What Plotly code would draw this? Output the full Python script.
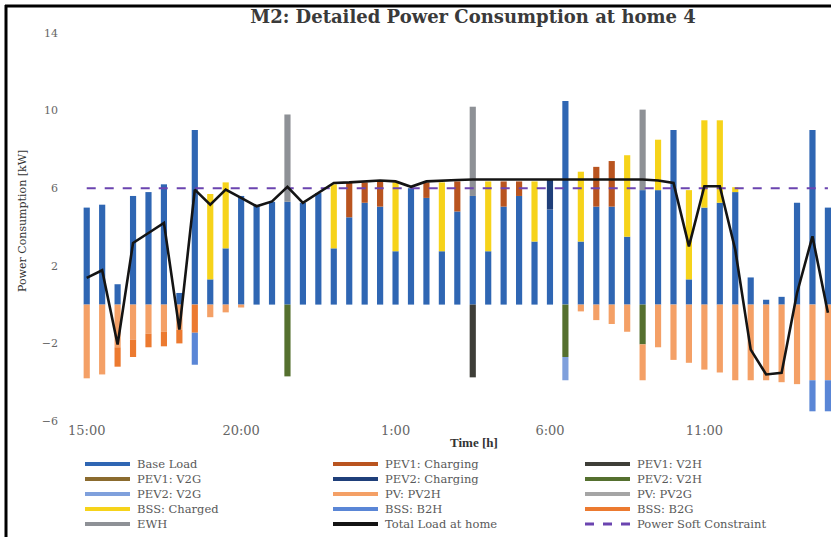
import plotly.graph_objects as go

# ---------------- data ----------------
times = ["15:00", "15:30", "16:00", "16:30", "17:00", "17:30", "18:00", "18:30", "19:00", "19:30",
         "20:00", "20:30", "21:00", "21:30", "22:00", "22:30", "23:00", "23:30", "0:00", "0:30",
         "1:00", "1:30", "2:00", "2:30", "3:00", "3:30", "4:00", "4:30", "5:00", "5:30",
         "6:00", "6:30", "7:00", "7:30", "8:00", "8:30", "9:00", "9:30", "10:00", "10:30",
         "11:00", "11:30", "12:00", "12:30", "13:00", "13:30", "14:00", "14:30", "15:00"]
tick_labels = ["15:00", "20:00", "1:00", "6:00", "11:00"]
y_ticks = [-6, -2, 2, 6, 10, 14]

base_load = [5.0, 5.15, 1.05, 5.6, 5.8, 6.2, 0.6, 9.0, 1.3, 2.9,
             5.6, 5.1, 5.3, 5.3, 5.25, 5.75, 2.9, 4.5, 5.25, 5.05,
             2.75, 6.0, 5.5, 2.75, 4.8, 5.6, 2.75, 5.05, 5.6, 3.25,
             4.9, 10.5, 3.25, 5.05, 5.05, 3.5, 5.9, 5.9, 9.0, 1.3,
             5.0, 5.25, 5.8, 1.4, 0.25, 0.4, 5.25, 9.0, 5.0]
pev1_charging = [0, 0, 0, 0, 0, 0, 0, 0, 0, 0,
                 0, 0, 0, 0, 0, 0, 0, 1.8, 1.05, 1.3,
                 0, 0, 0.8, 0, 1.55, 0, 0, 1.3, 0.75, 0,
                 0, 0, 0, 2.05, 2.35, 0, 0, 0, 0, 0,
                 0, 0, 0, 0, 0, 0, 0, 0, 0]
pev1_v2h = [0, 0, 0, 0, 0, 0, 0, 0, 0, 0,
            0, 0, 0, 0, 0, 0, 0, 0, 0, 0,
            0, 0, 0, 0, 0, -3.75, 0, 0, 0, 0,
            0, 0, 0, 0, 0, 0, 0, 0, 0, 0,
            0, 0, 0, 0, 0, 0, 0, 0, 0]
pev1_v2g = [0, 0, 0, 0, 0, 0, 0, 0, 0, 0,
            0, 0, 0, 0, 0, 0, 0, 0, 0, 0,
            0, 0, 0, 0, 0, 0, 0, 0, 0, 0,
            0, 0, 0, 0, 0, 0, 0, 0, 0, 0,
            0, 0, 0, 0, 0, 0, 0, 0, 0]
pev2_charging = [0, 0, 0, 0, 0, 0, 0, 0, 0, 0,
                 0, 0, 0, 0, 0, 0, 0, 0, 0, 0,
                 0, 0, 0, 0, 0, 0, 0, 0, 0, 0,
                 1.55, 0, 0, 0, 0, 0, 0, 0, 0, 0,
                 0, 0, 0, 0, 0, 0, 0, 0, 0]
pev2_v2h = [0, 0, 0, 0, 0, 0, 0, 0, 0, 0,
            0, 0, 0, -3.7, 0, 0, 0, 0, 0, 0,
            0, 0, 0, 0, 0, 0, 0, 0, 0, 0,
            0, -2.7, 0, 0, 0, 0, -2.05, 0, 0, 0,
            0, 0, 0, 0, 0, 0, 0, 0, 0]
pev2_v2g = [0, 0, 0, 0, 0, 0, 0, 0, 0, 0,
            0, 0, 0, 0, 0, 0, 0, 0, 0, 0,
            0, 0, 0, 0, 0, 0, 0, 0, 0, 0,
            0, -1.2, 0, 0, 0, 0, 0, 0, 0, 0,
            0, 0, 0, 0, 0, 0, 0, 0, 0]
pv_pv2h = [-3.8, -3.6, -2.2, -1.8, -1.5, -1.4, -1.3, 0, -0.65, -0.4,
           -0.15, 0, 0, 0, 0, 0, 0, 0, 0, 0,
           0, 0, 0, 0, 0, 0, 0, 0, 0, 0,
           0, 0, -0.35, -0.8, -1.0, -1.4, -1.85, -2.2, -2.85, -3.0,
           -3.35, -3.5, -3.9, -3.9, -3.9, -4.0, -4.1, -3.9, -3.9]
pv_pv2g = [0, 0, 0, 0, 0, 0, 0, 0, 0, 0,
           0, 0, 0, 0, 0, 0, 0, 0, 0, 0,
           0, 0, 0, 0, 0, 0, 0, 0, 0, 0,
           0, 0, 0, 0, 0, 0, 0, 0, 0, 0,
           0, 0, 0, 0, 0, 0, 0, 0, 0]
bss_charged = [0, 0, 0, 0, 0, 0, 0, 0, 4.4, 3.4,
               0, 0, 0, 0, 0, 0, 3.3, 0, 0, 0,
               3.55, 0, 0, 3.55, 0, 0, 3.6, 0, 0, 3.1,
               0, 0, 3.6, 0, 0, 4.2, 0, 2.6, 0, 4.6,
               4.5, 4.25, 0.25, 0, 0, 0, 0, 0, 0]
bss_b2h = [0, 0, 0, 0, 0, 0, 0, -1.65, 0, 0,
           0, 0, 0, 0, 0, 0, 0, 0, 0, 0,
           0, 0, 0, 0, 0, 0, 0, 0, 0, 0,
           0, 0, 0, 0, 0, 0, 0, 0, 0, 0,
           0, 0, 0, 0, 0, 0, 0, -1.6, -1.6]
bss_b2g = [0, 0, -1.0, -0.9, -0.7, -0.75, -0.7, -1.45, 0, 0,
           0, 0, 0, 0, 0, 0, 0, 0, 0, 0,
           0, 0, 0, 0, 0, 0, 0, 0, 0, 0,
           0, 0, 0, 0, 0, 0, 0, 0, 0, 0,
           0, 0, 0, 0, 0, 0, 0, 0, 0]
ewh = [0, 0, 0, 0, 0, 0, 0, 0, 0, 0,
       0, 0, 0, 4.5, 0, 0, 0, 0, 0, 0,
       0, 0, 0, 0, 0, 4.6, 0, 0, 0, 0,
       0, 0, 0, 0, 0, 0, 4.15, 0, 0, 0,
       0, 0, 0, 0, 0, 0, 0, 0, 0]
total_load = [1.38, 1.77, -2.06, 3.18, 3.69, 4.21, -1.29, 5.93, 5.15, 5.93,
              5.5, 5.07, 5.32, 6.07, 5.24, 5.75, 6.27, 6.3, 6.35, 6.4,
              6.35, 6.07, 6.35, 6.4, 6.42, 6.45, 6.45, 6.45, 6.45, 6.45,
              6.45, 6.45, 6.45, 6.45, 6.45, 6.45, 6.45, 6.4, 6.27, 3.0,
              6.1, 6.1, 2.83, -2.32, -3.6, -3.52, 0.6, 3.52, -0.42]
soft_constraint = [6.0, 6.0, 6.0, 6.0, 6.0, 6.0, 6.0, 6.0, 6.0, 6.0,
                   6.0, 6.0, 6.0, 6.0, 6.0, 6.0, 6.0, 6.0, 6.0, 6.0,
                   6.0, 6.0, 6.0, 6.0, 6.0, 6.0, 6.0, 6.0, 6.0, 6.0,
                   6.0, 6.0, 6.0, 6.0, 6.0, 6.0, 6.0, 6.0, 6.0, 6.0,
                   6.0, 6.0, 6.0, 6.0, 6.0, 6.0, 6.0, 6.0, 6.0]

# ---------------- styling ----------------
COL = {
    "Base Load": "#2F66B3",
    "PEV1: Charging": "#B9541F",
    "PEV1: V2H": "#3E3E38",
    "PEV1: V2G": "#8B6B2E",
    "PEV2: Charging": "#1F3F7A",
    "PEV2: V2H": "#55702F",
    "PEV2: V2G": "#7FA0DC",
    "PV: PV2H": "#F4A066",
    "PV: PV2G": "#A5A5A5",
    "BSS: Charged": "#F6D31A",
    "BSS: B2H": "#5A86D6",
    "BSS: B2G": "#EC7A30",
    "EWH": "#8E9196",
    "Total Load at home": "#141414",
    "Power Soft Constraint": "#6B44B0",
}

W, H = 831, 537
L, R, T, B = 79, 0, 33, 116
PW, PH = W - L - R, H - T - B


def px(x):
    return (x - L) / PW


def py(y):
    return (H - B - y) / PH


x_idx = list(range(len(times)))
tick_idx = [times.index(t) for t in tick_labels]

fig = go.Figure()

# positive stacks first (bottom to top), then negative ones (top to bottom)
bar_series = [
    ("Base Load", base_load),
    ("BSS: Charged", bss_charged),
    ("PEV1: Charging", pev1_charging),
    ("PEV2: Charging", pev2_charging),
    ("EWH", ewh),
    ("PV: PV2G", pv_pv2g),
    ("PEV2: V2H", pev2_v2h),
    ("PEV1: V2H", pev1_v2h),
    ("PEV1: V2G", pev1_v2g),
    ("PV: PV2H", pv_pv2h),
    ("BSS: B2G", bss_b2g),
    ("BSS: B2H", bss_b2h),
    ("PEV2: V2G", pev2_v2g),
]
for name, vals in bar_series:
    fig.add_trace(go.Bar(x=x_idx, y=vals, name=name, marker_color=COL[name],
                         marker_line_width=0, showlegend=False,
                         hovertext=times))

fig.add_trace(go.Scatter(x=x_idx, y=soft_constraint, name="Power Soft Constraint",
                         mode="lines", line=dict(color=COL["Power Soft Constraint"], width=2, dash="dash"),
                         showlegend=False))
fig.add_trace(go.Scatter(x=x_idx, y=total_load, name="Total Load at home",
                         mode="lines", line=dict(color=COL["Total Load at home"], width=2.6),
                         showlegend=False))

# ---------------- custom legend (3 columns x 5 rows) ----------------
legend_order = ["Base Load", "PEV1: Charging", "PEV1: V2H",
                "PEV1: V2G", "PEV2: Charging", "PEV2: V2H",
                "PEV2: V2G", "PV: PV2H", "PV: PV2G",
                "BSS: Charged", "BSS: B2H", "BSS: B2G",
                "EWH", "Total Load at home", "Power Soft Constraint"]
col_x = [85, 333, 585]
row_y = [464, 479, 494, 509, 524]
shapes = []
annotations = []
for i, name in enumerate(legend_order):
    r, c = divmod(i, 3)
    x0 = col_x[c]
    y0 = row_y[r]
    dash = "dash" if name == "Power Soft Constraint" else "solid"
    shapes.append(dict(type="line", xref="paper", yref="paper",
                       x0=px(x0), x1=px(x0 + 45), y0=py(y0), y1=py(y0),
                       line=dict(color=COL[name], width=4 if dash == "solid" else 3, dash=dash)))
    annotations.append(dict(text=name, xref="paper", yref="paper", x=px(x0 + 50), y=py(y0),
                            xanchor="left", yanchor="middle", showarrow=False,
                            font=dict(family="DejaVu Serif", size=11.5, color="#595959")))

# frame lines (left and top border of the picture)
shapes.append(dict(type="line", xref="paper", yref="paper", x0=px(6), x1=px(6), y0=py(5), y1=py(H),
                   line=dict(color="black", width=3)))
shapes.append(dict(type="line", xref="paper", yref="paper", x0=px(5), x1=px(W), y0=py(6), y1=py(6),
                   line=dict(color="black", width=3)))

annotations.append(dict(text="Power Consumption [kW]", xref="paper", yref="paper",
                        x=px(22), y=py(221), textangle=-90, showarrow=False,
                        xanchor="center", yanchor="middle",
                        font=dict(family="DejaVu Serif", size=11, color="#333333")))
annotations.append(dict(text="<b>Time [h]</b>", xref="paper", yref="paper",
                        x=px(474), y=py(442), showarrow=False,
                        xanchor="center", yanchor="middle",
                        font=dict(family="Liberation Serif", size=13, color="#333333")))

fig.update_layout(
    width=W, height=H,
    margin=dict(l=L, r=R, t=T, b=B),
    paper_bgcolor="white", plot_bgcolor="white",
    barmode="relative", bargap=0.6,
    showlegend=False,
    title=dict(text="<b>M2: Detailed Power Consumption at home 4</b>",
               x=473 / W, xanchor="center", xref="container",
               y=1 - 17 / H, yanchor="middle", yref="container",
               font=dict(family="DejaVu Serif", size=18, color="#3a3a3a")),
    xaxis=dict(range=[-0.5, 48.2], tickmode="array", tickvals=tick_idx, ticktext=tick_labels,
               showgrid=False, zeroline=False, showline=False, ticks="",
               tickfont=dict(family="DejaVu Serif", size=13, color="#666666")),
    yaxis=dict(range=[-6, 14], tickmode="array", tickvals=y_ticks,
               showgrid=False, zeroline=False, showline=False, ticks="",
               ticklabelstandoff=20,
               tickfont=dict(family="DejaVu Serif", size=11, color="#666666")),
    shapes=shapes,
    annotations=annotations,
)

fig.write_html("out.html",
               config={"displayModeBar": False},
               post_script="document.body.style.margin='0';document.body.style.overflow='hidden';")
